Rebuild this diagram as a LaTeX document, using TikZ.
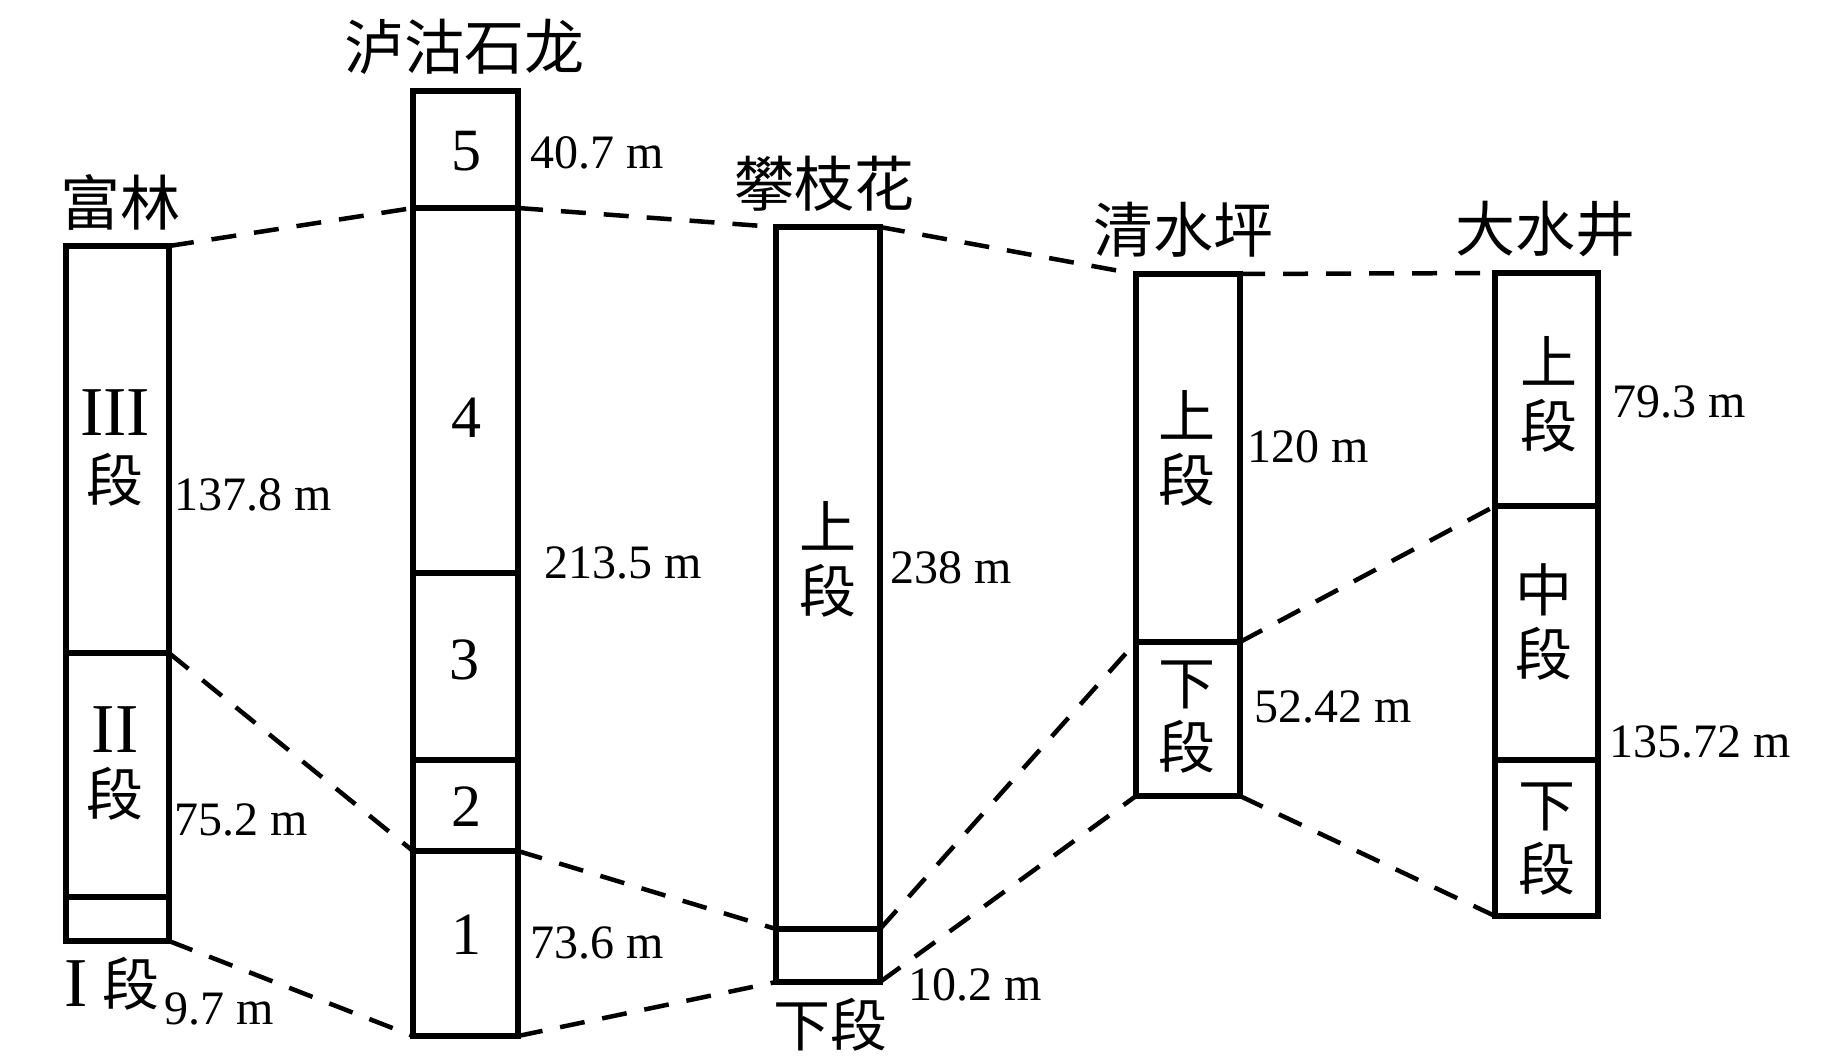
\documentclass[tikz,border=0pt]{standalone}
\usepackage{fontspec}
\setmainfont{Liberation Serif}
\newfontfamily\cjk{Noto Sans CJK SC}
\begin{document}
\begin{tikzpicture}[x=1pt,y=-1pt,
  seg/.style={draw,line width=5.5pt,rectangle,inner sep=0pt,outer sep=0pt,anchor=north west},
  link/.style={line width=4.5pt,dash pattern=on 25pt off 18pt},
  num/.style={font=\fontsize{48}{48}\selectfont,anchor=west,inner sep=0pt},
  title/.style={font=\cjk\fontsize{60}{60}\selectfont,inner sep=0pt},
  inlab/.style={font=\cjk\fontsize{57}{64}\selectfont,align=center,inner sep=0pt},
  cjkch/.style={font=\cjk\fontsize{57}{57}\selectfont,inner sep=0pt},
  roman/.style={font=\fontsize{70}{70}\selectfont,inner sep=0pt},
  digit/.style={font=\fontsize{60}{60}\selectfont,inner sep=0pt}]
\useasboundingbox (0,0) rectangle (1843,1063);

% Fulin
\node[seg,minimum width=103pt,minimum height=407pt] (fl3) at (66,246) {};
\node[seg,minimum width=103pt,minimum height=244pt] (fl2) at (66,653) {};
\node[seg,minimum width=103pt,minimum height=44pt]  (fl1) at (66,897) {};
% Luzhu Shilong
\node[seg,minimum width=105pt,minimum height=117pt] (lz5) at (413,91) {};
\node[seg,minimum width=105pt,minimum height=365pt] (lz4) at (413,208) {};
\node[seg,minimum width=105pt,minimum height=187pt] (lz3) at (413,573) {};
\node[seg,minimum width=105pt,minimum height=91pt]  (lz2) at (413,760) {};
\node[seg,minimum width=105pt,minimum height=185pt] (lz1) at (413,851) {};
% Panzhihua
\node[seg,minimum width=104pt,minimum height=702pt] (pz1) at (776,227) {};
\node[seg,minimum width=104pt,minimum height=53pt]  (pz2) at (776,929) {};
% Qingshuiping
\node[seg,minimum width=104pt,minimum height=368pt] (qs1) at (1136,274) {};
\node[seg,minimum width=104pt,minimum height=154pt] (qs2) at (1136,642) {};
% Dashuijing
\node[seg,minimum width=103pt,minimum height=233pt] (dj1) at (1495,273) {};
\node[seg,minimum width=103pt,minimum height=254pt] (dj2) at (1495,506) {};
\node[seg,minimum width=103pt,minimum height=156pt] (dj3) at (1495,760) {};

% connectors
\draw[link] (fl3.north east) -- (lz4.north west);
\draw[link] (lz4.north east) -- (pz1.north west);
\draw[link] (pz1.north east) -- (qs1.north west);
\draw[link] (qs1.north east) -- (dj1.north west);
\draw[link] (fl2.north east) -- (lz1.north west);
\draw[link] (fl1.south east) -- (lz1.south west);
\draw[link] (lz1.north east) -- (pz2.north west);
\draw[link] (lz1.south east) -- (pz2.south west);
\draw[link] (pz2.north east) -- (qs2.north west);
\draw[link] (pz2.south east) -- (qs2.south west);
\draw[link] (qs2.north east) -- (dj2.north west);
\draw[link] (qs2.south east) -- (dj3.south west);

% titles
\node[title] (tfl) at (120,202) {富林};
\node[title] (tlz) at (464,47) {泸沽石龙};
\node[title] (tpz) at (824,184) {攀枝花};
\node[title] (tqs) at (1183,230) {清水坪};
\node[title] (tdj) at (1545,229) {大水井};

% Fulin labels
\node[roman] (r3) at (115,413) {III};
\node[cjkch] (r3b) at (115,480) {段};
\node[roman] (r2) at (115,730) {II};
\node[cjkch] (r2b) at (115,794) {段};
\node[roman] (r1) at (76,984) {I};
\node[cjkch] (r1b) at (131,984) {段};

% Luzhu digits
\node[digit] (d5) at (466,151) {5};
\node[digit] (d4) at (466,418) {4};
\node[digit] (d3) at (464,660) {3};
\node[digit] (d2) at (466,807) {2};
\node[digit] (d1) at (466,935) {1};

% inner CJK labels
\node[inlab] (pzu) at (828,559) {上\\段};
\node[cjkch] (pzd) at (830,1025) {下段};
\node[inlab] (qsu) at (1187,448) {上\\段};
\node[inlab] (qsd) at (1187,717) {下\\段};
\node[inlab] (dju) at (1549,394) {上\\段};
\node[inlab] (djm) at (1544,622) {中\\段};
\node[inlab] (djd) at (1547,839) {下\\段};

% thickness labels
\node[num] (n1) at (530,153) {40.7 m};
\node[num] (n2) at (174,495) {137.8 m};
\node[num] (n3) at (544,563) {213.5 m};
\node[num] (n4) at (174,820) {75.2 m};
\node[num] (n5) at (530,943) {73.6 m};
\node[num] (n6) at (164,1009) {9.7 m};
\node[num] (n7) at (890,568) {238 m};
\node[num] (n8) at (908,985) {10.2 m};
\node[num] (n9) at (1247,447) {120 m};
\node[num] (n10) at (1254,707) {52.42 m};
\node[num] (n11) at (1612,402) {79.3 m};
\node[num] (n12) at (1609,742) {135.72 m};
\end{tikzpicture}
\end{document}
